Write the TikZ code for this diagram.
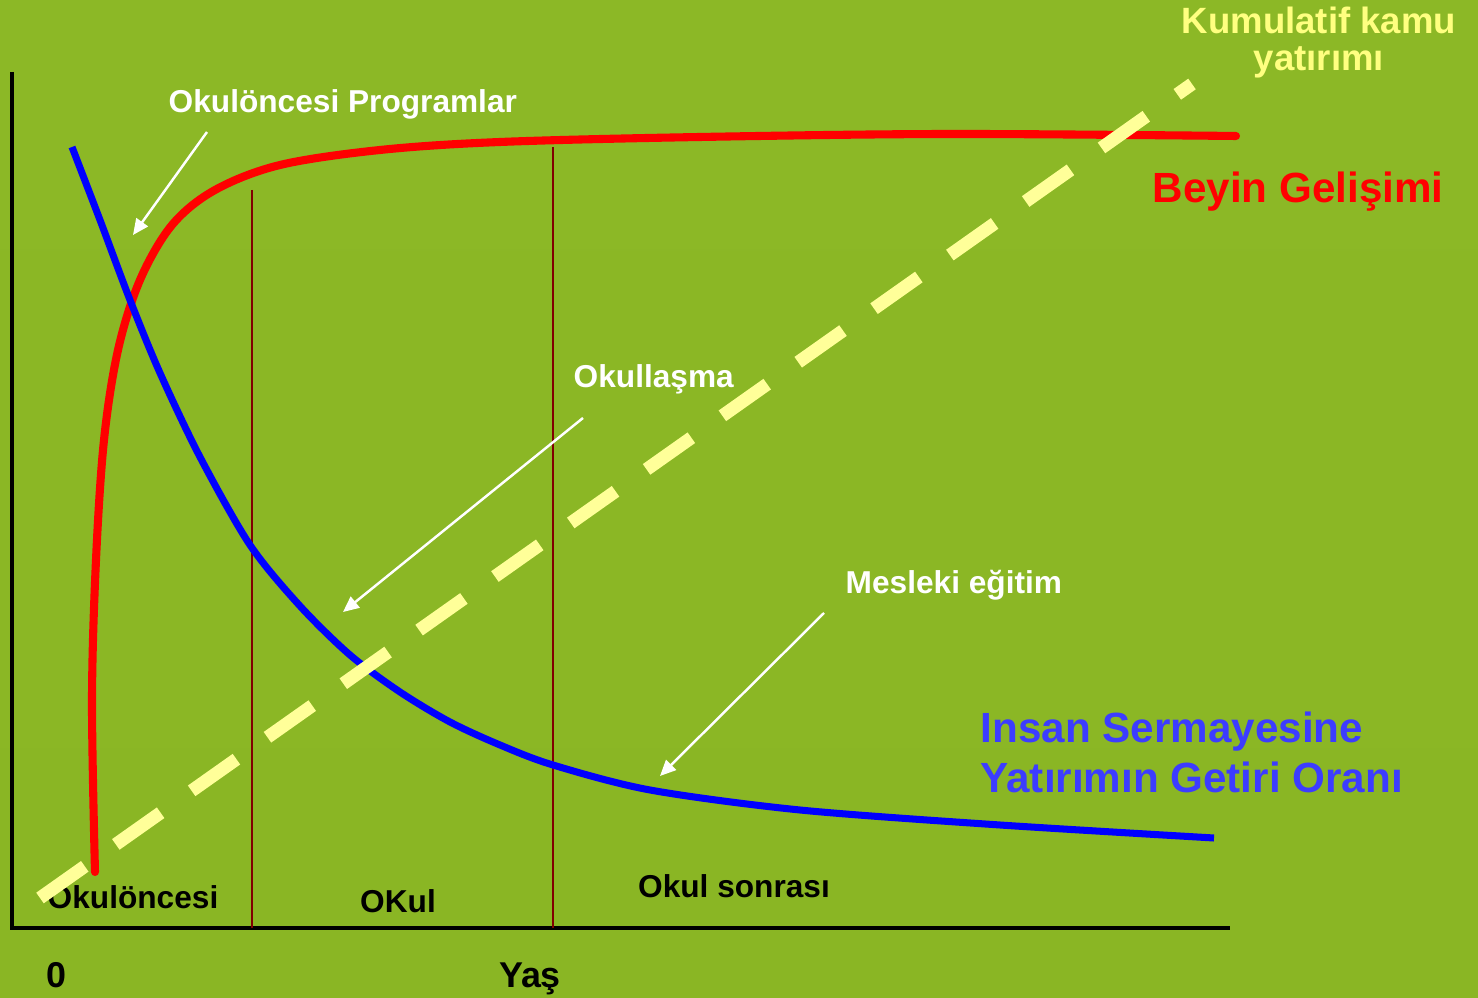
\documentclass[tikz,border=0pt]{standalone}
\usepackage{fontspec}
\setmainfont{Liberation Sans}
\usetikzlibrary{arrows.meta}

\definecolor{bgtop}{RGB}{140,184,38}
\definecolor{bgmid}{RGB}{126,170,31}
\definecolor{bgbot}{RGB}{138,182,36}
\definecolor{stagered}{RGB}{128,0,0}
\definecolor{investyellow}{RGB}{255,255,153}
\definecolor{titleyellow}{RGB}{255,255,128}
\definecolor{returnblue}{RGB}{60,60,255}

\begin{document}
\begin{tikzpicture}[
     x = 0.01cm,
     y = -0.01cm,
     axis/.style = {line width=1.4pt, black},
     stageline/.style = {line width=0.55pt, stagered},
     brain/.style = {line width=2.3pt, red, line cap=round},
     returns/.style = {line width=2pt, blue},
     invest/.style = {line width=3.7pt, investyellow, dash pattern=on 15.6pt off 10.8pt},
     pointer/.style = {white, line width=0.7pt, -{Triangle[length=4.5pt,width=4pt]}},
     note/.style = {white, inner sep=0pt, font=\bfseries\fontsize{9}{11}\selectfont},
     stagelbl/.style = {black, inner sep=0pt, font=\bfseries\fontsize{9}{11}\selectfont},
     axislbl/.style = {black, inner sep=0pt, font=\bfseries\fontsize{10.2}{12}\selectfont}
    ]
    \useasboundingbox (0,0) rectangle (1478,998);
    \shade[top color=bgtop, middle color=bgmid, bottom color=bgbot] (0,0) rectangle (1478,998);

    % axes
    \coordinate (top) at (12,72);
    \coordinate (origin) at (12,928);
    \coordinate (right) at (1230,928);
    \draw[axis] (top) -- (origin) -- (right);

    % stage borders
    \coordinate (okulTop) at (252,190);
    \coordinate (okulBot) at (252,928);
    \coordinate (sonraTop) at (553,147);
    \coordinate (sonraBot) at (553,928);
    \draw[stageline] (okulTop) -- (okulBot);
    \draw[stageline] (sonraTop) -- (sonraBot);

    % curves
    \draw[brain] plot[smooth, tension=0.55] coordinates {
      (95,872) (92,700) (96,560) (104,440) (118,350) (140,280)
      (172,225) (215,190) (280,165) (380,150) (500,142)
      (700,137) (950,134) (1236,136)};
    \draw[returns] plot[smooth, tension=0.5] coordinates {
      (72,147) (100,220) (130,300) (160,373) (200,457) (250,545)
      (300,606) (350,655) (400,692) (450,722) (500,745) (553,765)
      (650,790) (800,810) (1000,825) (1214,838)};

    % labels
    \node[note, anchor=base west] (preLbl) at (168,113) {Okulöncesi Programlar};
    \node[note, anchor=base west] (schoolLbl) at (573,388) {Okullaşma};
    \node[note, anchor=base west] (jobLbl) at (845,594) {Mesleki eğitim};

    \node[stagelbl, anchor=base] (preStage) at (133,909) {Okulöncesi};
    \node[stagelbl, anchor=base] (okulStage) at (398,913) {OKul};
    \node[stagelbl, anchor=base] (sonraStage) at (734,898) {Okul sonrası};

    \node[axislbl, anchor=base] (zero) at (56,988) {0};
    \node[axislbl, anchor=base] (age) at (530,988) {Yaş};

    \node[inner sep=0pt, anchor=base west, red,
      font=\bfseries\fontsize{12}{14}\selectfont] (brainLbl) at (1152,203) {Beyin Gelişimi};
    \node[inner sep=0pt, anchor=north west, align=left, returnblue,
      font=\bfseries\fontsize{12}{14.2}\selectfont] (returnLbl) at (980,711)
      {Insan Sermayesine\\Yatırımın Getiri Oranı};
    \node[inner sep=0pt, anchor=north, align=center, titleyellow,
      font=\bfseries\fontsize{10.4}{10.5}\selectfont] (investLbl) at (1319,6)
      {Kumulatif kamu\\yatırımı};

    % pointers
    \coordinate (preTail) at (207,132);
    \coordinate (preTip) at (133,235);
    \coordinate (schoolTail) at (583,418);
    \coordinate (schoolTip) at (343,612);
    \coordinate (jobTail) at (824,613);
    \coordinate (jobTip) at (660,776);
    \draw[pointer] (preTail) -- (preTip);
    \draw[pointer] (schoolTail) -- (schoolTip);
    \draw[pointer] (jobTail) -- (jobTip);

    % cumulative investment
    \coordinate (investStart) at (40,898);
    \coordinate (investEnd) at (1192,84);
    \draw[invest] (investStart) -- (investEnd);
\end{tikzpicture}
\end{document}
